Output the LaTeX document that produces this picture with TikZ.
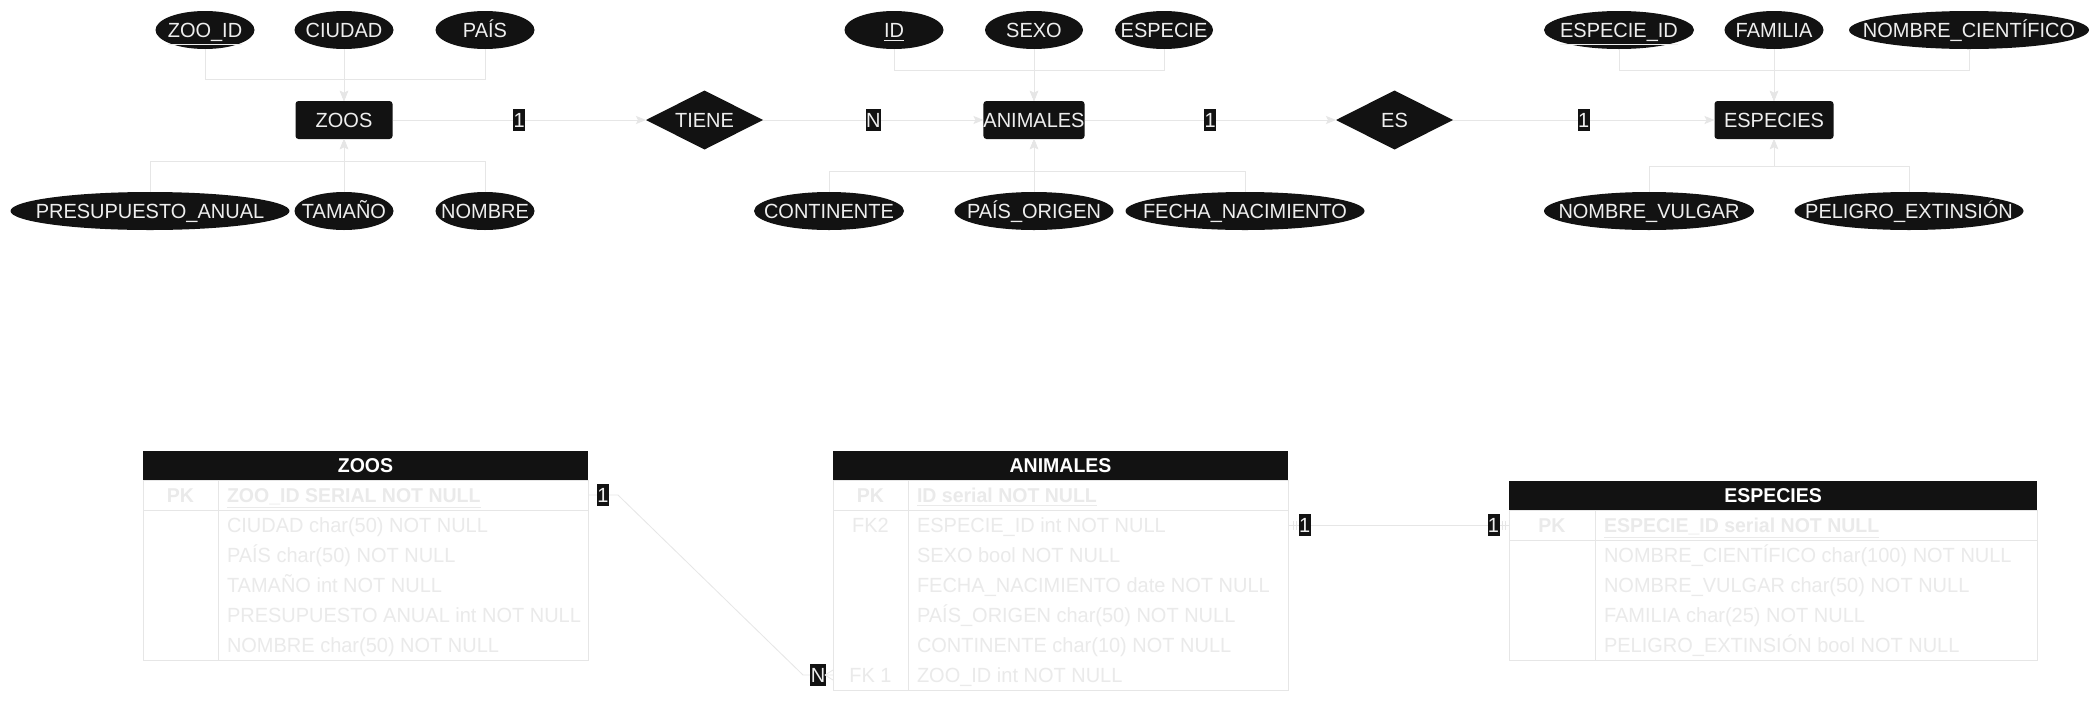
\documentclass[tikz,border=0pt]{standalone}
\usepackage{fontspec,mathtools}
\setmainfont{Liberation Sans}[FakeStretch=0.975]
\usetikzlibrary{shapes.geometric,arrows.meta}
\definecolor{erdark}{RGB}{18,18,18}
\definecolor{erline}{RGB}{230,230,230}
\definecolor{erfont}{RGB}{238,238,238}
\definecolor{erfaint}{RGB}{234,234,234}

\begin{document}
\begin{tikzpicture}[x=1pt,y=-1pt,
    every node/.style={font=\fontsize{20.5pt}{24pt}\selectfont, inner sep=0pt, outer sep=0pt, text height=14.7pt, text depth=0pt},
    attr/.style={ellipse, fill=erdark, text=erfont, minimum height=38pt},
    ent/.style={rectangle, rounded corners=3pt, fill=erdark, text=erfont, minimum height=38pt},
    rel/.style={diamond, aspect=2, fill=erdark, text=erfont, minimum width=117pt, minimum height=59pt},
    card/.style={fill=erdark, text=erfont, minimum height=22.6pt, inner xsep=0.4pt},
    link/.style={draw=erline, line width=1pt, -{Stealth[length=10pt,width=8pt,inset=2pt]}},
    fk/.style={draw=erline, line width=0.8pt},
    tbhead/.style={fill=erdark, text=white, font=\fontsize{20pt}{24pt}\selectfont\bfseries, minimum height=29pt},
    tbrow/.style={minimum height=30pt},
    tbkey/.style={text=erfaint},
    tbfld/.style={text=erfaint, anchor=west}]
    \fill[white] (0,0) rectangle (2100,702);
    \useasboundingbox (0,0) rectangle (2100,702);

    % entidades y relaciones
    \node[ent, minimum width=97pt] (zoos) at (344,120) {ZOOS};
    \node[ent, minimum width=99pt] (animales) at (1034,120) {ANIMALES};
    \node[ent, minimum width=119pt] (especies) at (1774,120) {ESPECIES};
    \node[rel] (tiene) at (704.5,120) {TIENE};
    \node[rel] (es) at (1394.5,120) {ES};

    % atributos
    \node[attr, minimum width=99pt] (zooid) at (205,30) {\clap{\underline{ZOO\_ID}}};
    \node[attr, minimum width=99pt] (ciudad) at (344,30) {\clap{CIUDAD}};
    \node[attr, minimum width=99pt] (pais) at (485,30) {\clap{PAÍS}};
    \node[attr, minimum width=279pt] (presup) at (150,211) {\clap{PRESUPUESTO\_ANUAL}};
    \node[attr, minimum width=99pt] (tamano) at (344,211) {\clap{TAMAÑO}};
    \node[attr, minimum width=99pt] (nombre) at (485,211) {\clap{NOMBRE}};
    \node[attr, minimum width=99pt] (aid) at (894,30) {\clap{\underline{ID}}};
    \node[attr, minimum width=98pt] (sexo) at (1034,30) {\clap{SEXO}};
    \node[attr, minimum width=98pt] (especie) at (1164,30) {\clap{ESPECIE}};
    \node[attr, minimum width=150pt] (continente) at (829,211) {\clap{CONTINENTE}};
    \node[attr, minimum width=159pt] (paisorigen) at (1034,211) {\clap{PAÍS\_ORIGEN}};
    \node[attr, minimum width=239pt] (fecha) at (1245,211) {\clap{FECHA\_NACIMIENTO}};
    \node[attr, minimum width=150pt] (especieid) at (1619,30) {\clap{\underline{ESPECIE\_ID}}};
    \node[attr, minimum width=99pt] (familia) at (1774,30) {\clap{FAMILIA}};
    \node[attr, minimum width=240pt] (ncientifico) at (1969,30) {\clap{NOMBRE\_CIENTÍFICO}};
    \node[attr, minimum width=210pt] (nvulgar) at (1649,211) {\clap{NOMBRE\_VULGAR}};
    \node[attr, minimum width=229pt] (peligro) at (1909,211) {\clap{PELIGRO\_EXTINSIÓN}};

    \coordinate (zup) at (344,79);
    \coordinate (zdown) at (344,161);
    \coordinate (aup) at (1034,70);
    \coordinate (adown) at (1034,171);
    \coordinate (eup) at (1774,70);
    \coordinate (edown) at (1774,166);

    \draw[link] (zooid) |- (zup) -- (zoos);
    \draw[link] (ciudad) -- (zoos);
    \draw[link] (pais) |- (zup) -- (zoos);
    \draw[link] (presup) |- (zdown) -- (zoos);
    \draw[link] (tamano) -- (zoos);
    \draw[link] (nombre) |- (zdown) -- (zoos);
    \draw[link] (aid) |- (aup) -- (animales);
    \draw[link] (sexo) -- (animales);
    \draw[link] (especie) |- (aup) -- (animales);
    \draw[link] (continente) |- (adown) -- (animales);
    \draw[link] (paisorigen) -- (animales);
    \draw[link] (fecha) |- (adown) -- (animales);
    \draw[link] (especieid) |- (eup) -- (especies);
    \draw[link] (familia) -- (especies);
    \draw[link] (ncientifico) |- (eup) -- (especies);
    \draw[link] (nvulgar) |- (edown) -- (especies);
    \draw[link] (peligro) |- (edown) -- (especies);

    \draw[link] (zoos) -- node[card] {1} (tiene);
    \draw[link] (tiene) -- node[card] {N} (animales);
    \draw[link] (animales) -- node[card] {1} (es);
    \draw[link] (es) -- node[card] {1} (especies);

    % tabla ZOOS
    \node[tbhead, minimum width=445pt] (tzoos) at (365.5,465.5) {ZOOS};
    \draw[fk] (143,480) rectangle (588,660);
    \draw[fk] (218,480) -- (218,660);
    \draw[fk] (143,510) -- (588,510);
    \node[tbrow, minimum width=445pt] (zpkrow) at (365.5,495) {};
    \node[tbkey, font=\fontsize{20pt}{24pt}\selectfont\bfseries] (zpk) at (180.5,495) {PK};
    \node[tbfld, font=\fontsize{20pt}{24pt}\selectfont\bfseries] (zf1) at (227,495) {\underline{ZOO\_ID SERIAL NOT NULL}};
    \node[tbfld] (zf2) at (227,525) {CIUDAD char(50) NOT NULL};
    \node[tbfld] (zf3) at (227,555) {PAÍS char(50) NOT NULL};
    \node[tbfld] (zf4) at (227,585) {TAMAÑO int NOT NULL};
    \node[tbfld] (zf5) at (227,615) {PRESUPUESTO ANUAL int NOT NULL};
    \node[tbfld] (zf6) at (227,645) {NOMBRE char(50) NOT NULL};

    % tabla ANIMALES
    \node[tbhead, minimum width=455pt] (tanimales) at (1060.5,465.5) {ANIMALES};
    \draw[fk] (833,480) rectangle (1288,690);
    \draw[fk] (908,480) -- (908,690);
    \draw[fk] (833,510) -- (1288,510);
    \node[tbrow, minimum width=455pt] (afk2row) at (1060.5,525) {};
    \node[tbrow, minimum width=455pt] (afk1row) at (1060.5,675) {};
    \node[tbkey, font=\fontsize{20pt}{24pt}\selectfont\bfseries] (apk) at (870.5,495) {PK};
    \node[tbkey] (afk2) at (870.5,525) {FK2};
    \node[tbkey] (afk1) at (870.5,675) {FK 1};
    \node[tbfld, font=\fontsize{20pt}{24pt}\selectfont\bfseries] (af1) at (917,495) {\underline{ID serial NOT NULL}};
    \node[tbfld] (af2) at (917,525) {ESPECIE\_ID int NOT NULL};
    \node[tbfld] (af3) at (917,555) {SEXO bool NOT NULL};
    \node[tbfld] (af4) at (917,585) {FECHA\_NACIMIENTO date NOT NULL};
    \node[tbfld] (af5) at (917,615) {PAÍS\_ORIGEN char(50) NOT NULL};
    \node[tbfld] (af6) at (917,645) {CONTINENTE char(10) NOT NULL};
    \node[tbfld] (af7) at (917,675) {ZOO\_ID int NOT NULL};

    % tabla ESPECIES
    \node[tbhead, minimum width=528pt] (tespecies) at (1773,495.5) {ESPECIES};
    \draw[fk] (1509,510) rectangle (2037,660);
    \draw[fk] (1595,510) -- (1595,660);
    \draw[fk] (1509,540) -- (2037,540);
    \node[tbrow, minimum width=528pt] (epkrow) at (1773,525) {};
    \node[tbkey, font=\fontsize{20pt}{24pt}\selectfont\bfseries] (epk) at (1552,525) {PK};
    \node[tbfld, font=\fontsize{20pt}{24pt}\selectfont\bfseries] (ef1) at (1604,525) {\underline{ESPECIE\_ID serial NOT NULL}};
    \node[tbfld] (ef2) at (1604,555) {NOMBRE\_CIENTÍFICO char(100) NOT NULL};
    \node[tbfld] (ef3) at (1604,585) {NOMBRE\_VULGAR char(50) NOT NULL};
    \node[tbfld] (ef4) at (1604,615) {FAMILIA char(25) NOT NULL};
    \node[tbfld] (ef5) at (1604,645) {PELIGRO\_EXTINSIÓN bool NOT NULL};

    % relaciones entre tablas
    \draw[fk] (zpkrow.east) -- node[card] {1} ++(30,0) -- ([xshift=-30pt]afk1row.west) -- node[card] {N} (afk1row.west);
    \draw[fk] ([yshift=-5pt]afk1row.west) -- ([xshift=-8pt]afk1row.west) -- ([yshift=5pt]afk1row.west);
    \draw[fk] ([xshift=5pt,yshift=-4.5pt]afk2row.east) -- ([xshift=5pt,yshift=4.5pt]afk2row.east);
    \draw[fk] ([xshift=8pt,yshift=-4.5pt]afk2row.east) -- ([xshift=8pt,yshift=4.5pt]afk2row.east);
    \draw[fk] ([xshift=-7pt,yshift=-4.5pt]epkrow.west) -- ([xshift=-7pt,yshift=4.5pt]epkrow.west);
    \draw[fk] ([xshift=-4pt,yshift=-4.5pt]epkrow.west) -- ([xshift=-4pt,yshift=4.5pt]epkrow.west);
    \draw[fk] (afk2row.east) -- node[card, pos=0.075] {1} node[card, pos=0.93] {1} (epkrow.west);
\end{tikzpicture}
\end{document}
